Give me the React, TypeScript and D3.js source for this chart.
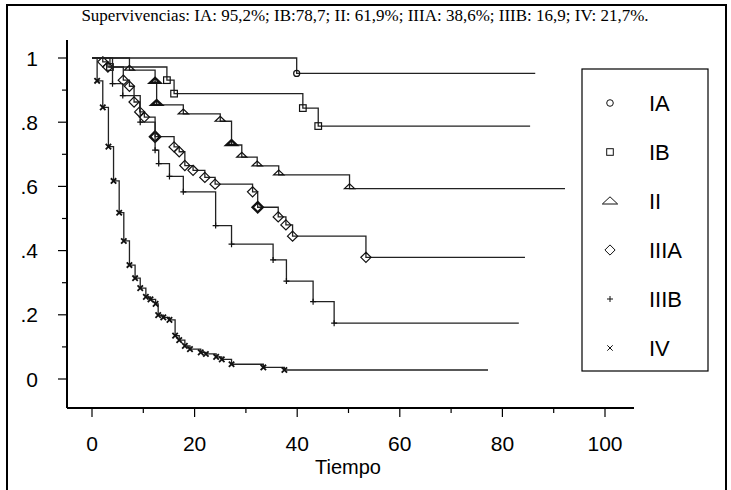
import React from "react";
import * as d3 from "d3";

// [time, survival, ties] at each step; markers drawn at the corners
const stageIA: number[][] = [[39.9, 0.952]];
const stageIB: number[][] = [
  [3.5, 0.972], [14.6, 0.931], [16.0, 0.889], [41.1, 0.844], [44.1, 0.788],
];
const stageII: number[][] = [
  [7.3, 0.962], [12.3, 0.923, 2], [12.6, 0.854, 2], [17.8, 0.826], [25.0, 0.803],
  [27.2, 0.729, 2], [29.2, 0.691], [32.2, 0.664], [36.4, 0.636], [50.2, 0.593],
];
const stageIIIA: number[][] = [
  [2.1, 0.988], [3.1, 0.972], [6.1, 0.931], [7.3, 0.912], [8.2, 0.863],
  [9.3, 0.832], [10.2, 0.816], [12.3, 0.755, 2], [16.0, 0.723], [17.0, 0.708],
  [18.1, 0.665], [19.7, 0.650], [22.0, 0.628], [24.0, 0.607], [31.3, 0.583],
  [32.3, 0.535, 2], [36.3, 0.505], [37.8, 0.480], [39.1, 0.445], [53.4, 0.379],
];
const stageIIIB: number[][] = [
  [4.0, 0.920], [6.0, 0.883], [9.4, 0.800], [12.3, 0.713], [13.0, 0.671],
  [15.1, 0.631], [17.8, 0.583], [24.1, 0.478], [27.2, 0.420], [35.3, 0.371],
  [37.9, 0.305], [43.1, 0.241], [47.2, 0.174],
];
const stageIV: number[][] = [
  [1.0, 0.929], [2.1, 0.846], [3.2, 0.724], [4.2, 0.617], [5.3, 0.518],
  [6.2, 0.430], [7.3, 0.355], [8.4, 0.314], [9.4, 0.283], [10.5, 0.256],
  [11.4, 0.248], [12.4, 0.234], [12.9, 0.199], [13.9, 0.192], [15.1, 0.184],
  [16.2, 0.135], [17.0, 0.121], [18.1, 0.103], [19.1, 0.093], [21.2, 0.083],
  [22.2, 0.078], [24.2, 0.069], [25.3, 0.061], [27.2, 0.046], [33.4, 0.036],
  [37.5, 0.028],
];

const stageNames = ["IA", "IB", "II", "IIIA", "IIIB", "IV"];
const stageData = [stageIA, stageIB, stageII, stageIIIA, stageIIIB, stageIV];
const lastFollowUp = [86.4, 85.4, 92.2, 84.4, 83.2, 77.2];
const symbolKinds = ["circle", "square", "triangle", "diamond", "plus", "cross"];

const xTicks = [0, 10, 20, 30, 40, 50, 60, 70, 80, 90, 100];
const yTicks = [0, 0.1, 0.2, 0.3, 0.4, 0.5, 0.6, 0.7, 0.8, 0.9, 1];
const yTickLabels: Record<string, string> = { "0": "0", "0.2": ".2", "0.4": ".4", "0.6": ".6", "0.8": ".8", "1": "1" };

const titleText = "Supervivencias: IA: 95,2%; IB:78,7; II: 61,9%; IIIA: 38,6%; IIIB: 16,9; IV: 21,7%.";

// marker size on the curves, per symbol
const curveSize: Record<string, number> = { circle: 5.5, square: 6, triangle: 6, diamond: 6, plus: 6, cross: 6 };

const Marker = ({ kind, x, y, s, w }: { kind: string; x: number; y: number; s: number; w: number }) => {
  const st = { fill: "none", stroke: "#111", strokeWidth: w };
  if (kind === "circle") return <circle cx={x} cy={y} r={s * 0.55} {...st} />;
  if (kind === "square") return <rect x={x - s * 0.55} y={y - s * 0.55} width={s * 1.1} height={s * 1.1} {...st} />;
  if (kind === "triangle")
    return <path d={`M${x - s * 0.85},${y} L${x + s * 0.85},${y} L${x},${y - s * 0.8} Z`} {...st} />;
  if (kind === "diamond")
    return <path d={`M${x},${y - s * 0.85} L${x + s * 0.85},${y} L${x},${y + s * 0.85} L${x - s * 0.85},${y} Z`} {...st} />;
  if (kind === "plus")
    return <path d={`M${x - s * 0.5},${y} H${x + s * 0.5} M${x},${y - s * 0.5} V${y + s * 0.5}`} {...st} />;
  return <path d={`M${x - s * 0.45},${y - s * 0.45} L${x + s * 0.45},${y + s * 0.45} M${x - s * 0.45},${y + s * 0.45} L${x + s * 0.45},${y - s * 0.45}`} {...st} />;
};

const App = () => {
  const x = d3.scaleLinear().domain([0, 100]).range([92, 605]);
  const y = d3.scaleLinear().domain([0, 1]).range([379, 58]);
  const axisX = 67;
  const axisY = 408;
  const sans = "'Liberation Sans', Arial, sans-serif";

  const stepLine = d3.line<number[]>()
    .x(d => x(d[0]))
    .y(d => y(d[1]))
    .curve(d3.curveStepAfter);

  return (
    <svg width={731} height={490} style={{ position: "absolute", left: 0, top: 0 }}>
      <rect x={0} y={0} width={731} height={490} fill="white" />
      <rect x={7} y={5} width={719} height={500} fill="none" stroke="black" strokeWidth={2} />
      <text x={365} y={21} textAnchor="middle" fontFamily="'Liberation Serif', serif" fontSize={17}>
        {titleText}
      </text>

      {/* axes */}
      <line x1={axisX} x2={axisX} y1={40} y2={axisY} stroke="black" strokeWidth={2} />
      <line x1={axisX} x2={634} y1={axisY} y2={axisY} stroke="black" strokeWidth={2} />
      {yTicks.map((t, i) => {
        const major = i % 2 === 0;
        return (
          <g key={i}>
            <line x1={axisX - (major ? 9 : 5)} x2={axisX} y1={y(t)} y2={y(t)} stroke="black" strokeWidth={1.2} />
            {major && (
              <text x={38} y={y(t)} dy="0.36em" textAnchor="end" fontFamily={sans} fontSize={21}>
                {yTickLabels[String(+t.toFixed(1))]}
              </text>
            )}
          </g>
        );
      })}
      {xTicks.map((t, i) => {
        const major = i % 2 === 0;
        return (
          <g key={i}>
            <line x1={x(t)} x2={x(t)} y1={axisY} y2={axisY + (major ? 9 : 5)} stroke="black" strokeWidth={1.2} />
            {major && (
              <text x={x(t)} y={451} textAnchor="middle" fontFamily={sans} fontSize={21}>
                {t}
              </text>
            )}
          </g>
        );
      })}
      <text x={348} y={474} textAnchor="middle" fontFamily={sans} fontSize={20}>Tiempo</text>

      {/* survival curves */}
      {stageData.map((events, gi) => {
        const last = events[events.length - 1][1];
        const pts = [[0, 1], ...events, [lastFollowUp[gi], last]];
        const kind = symbolKinds[gi];
        return (
          <g key={stageNames[gi]}>
            <path d={stepLine(pts) ?? ""} fill="none" stroke="#222" strokeWidth={1.3} />
            {events.map((e, k) => (
              <Marker key={k} kind={kind} x={x(e[0])} y={y(e[1])}
                s={curveSize[kind]} w={e[2] ? 2.4 : kind === "cross" ? 1.8 : 1.2} />
            ))}
          </g>
        );
      })}

      {/* legend */}
      <rect x={582} y={69} width={126} height={302} fill="white" stroke="black" strokeWidth={1.2} />
      {stageNames.map((name, i) => {
        const cy = 103 + i * 49;
        return (
          <g key={name}>
            <Marker kind={symbolKinds[i]} x={610} y={symbolKinds[i] === "triangle" ? cy + 3 : cy}
              s={symbolKinds[i] === "triangle" ? 9 : 6} w={1} />
            <text x={649} y={cy} dy="0.36em" fontFamily={sans} fontSize={22}>{name}</text>
          </g>
        );
      })}
    </svg>
  );
};

export default App;
